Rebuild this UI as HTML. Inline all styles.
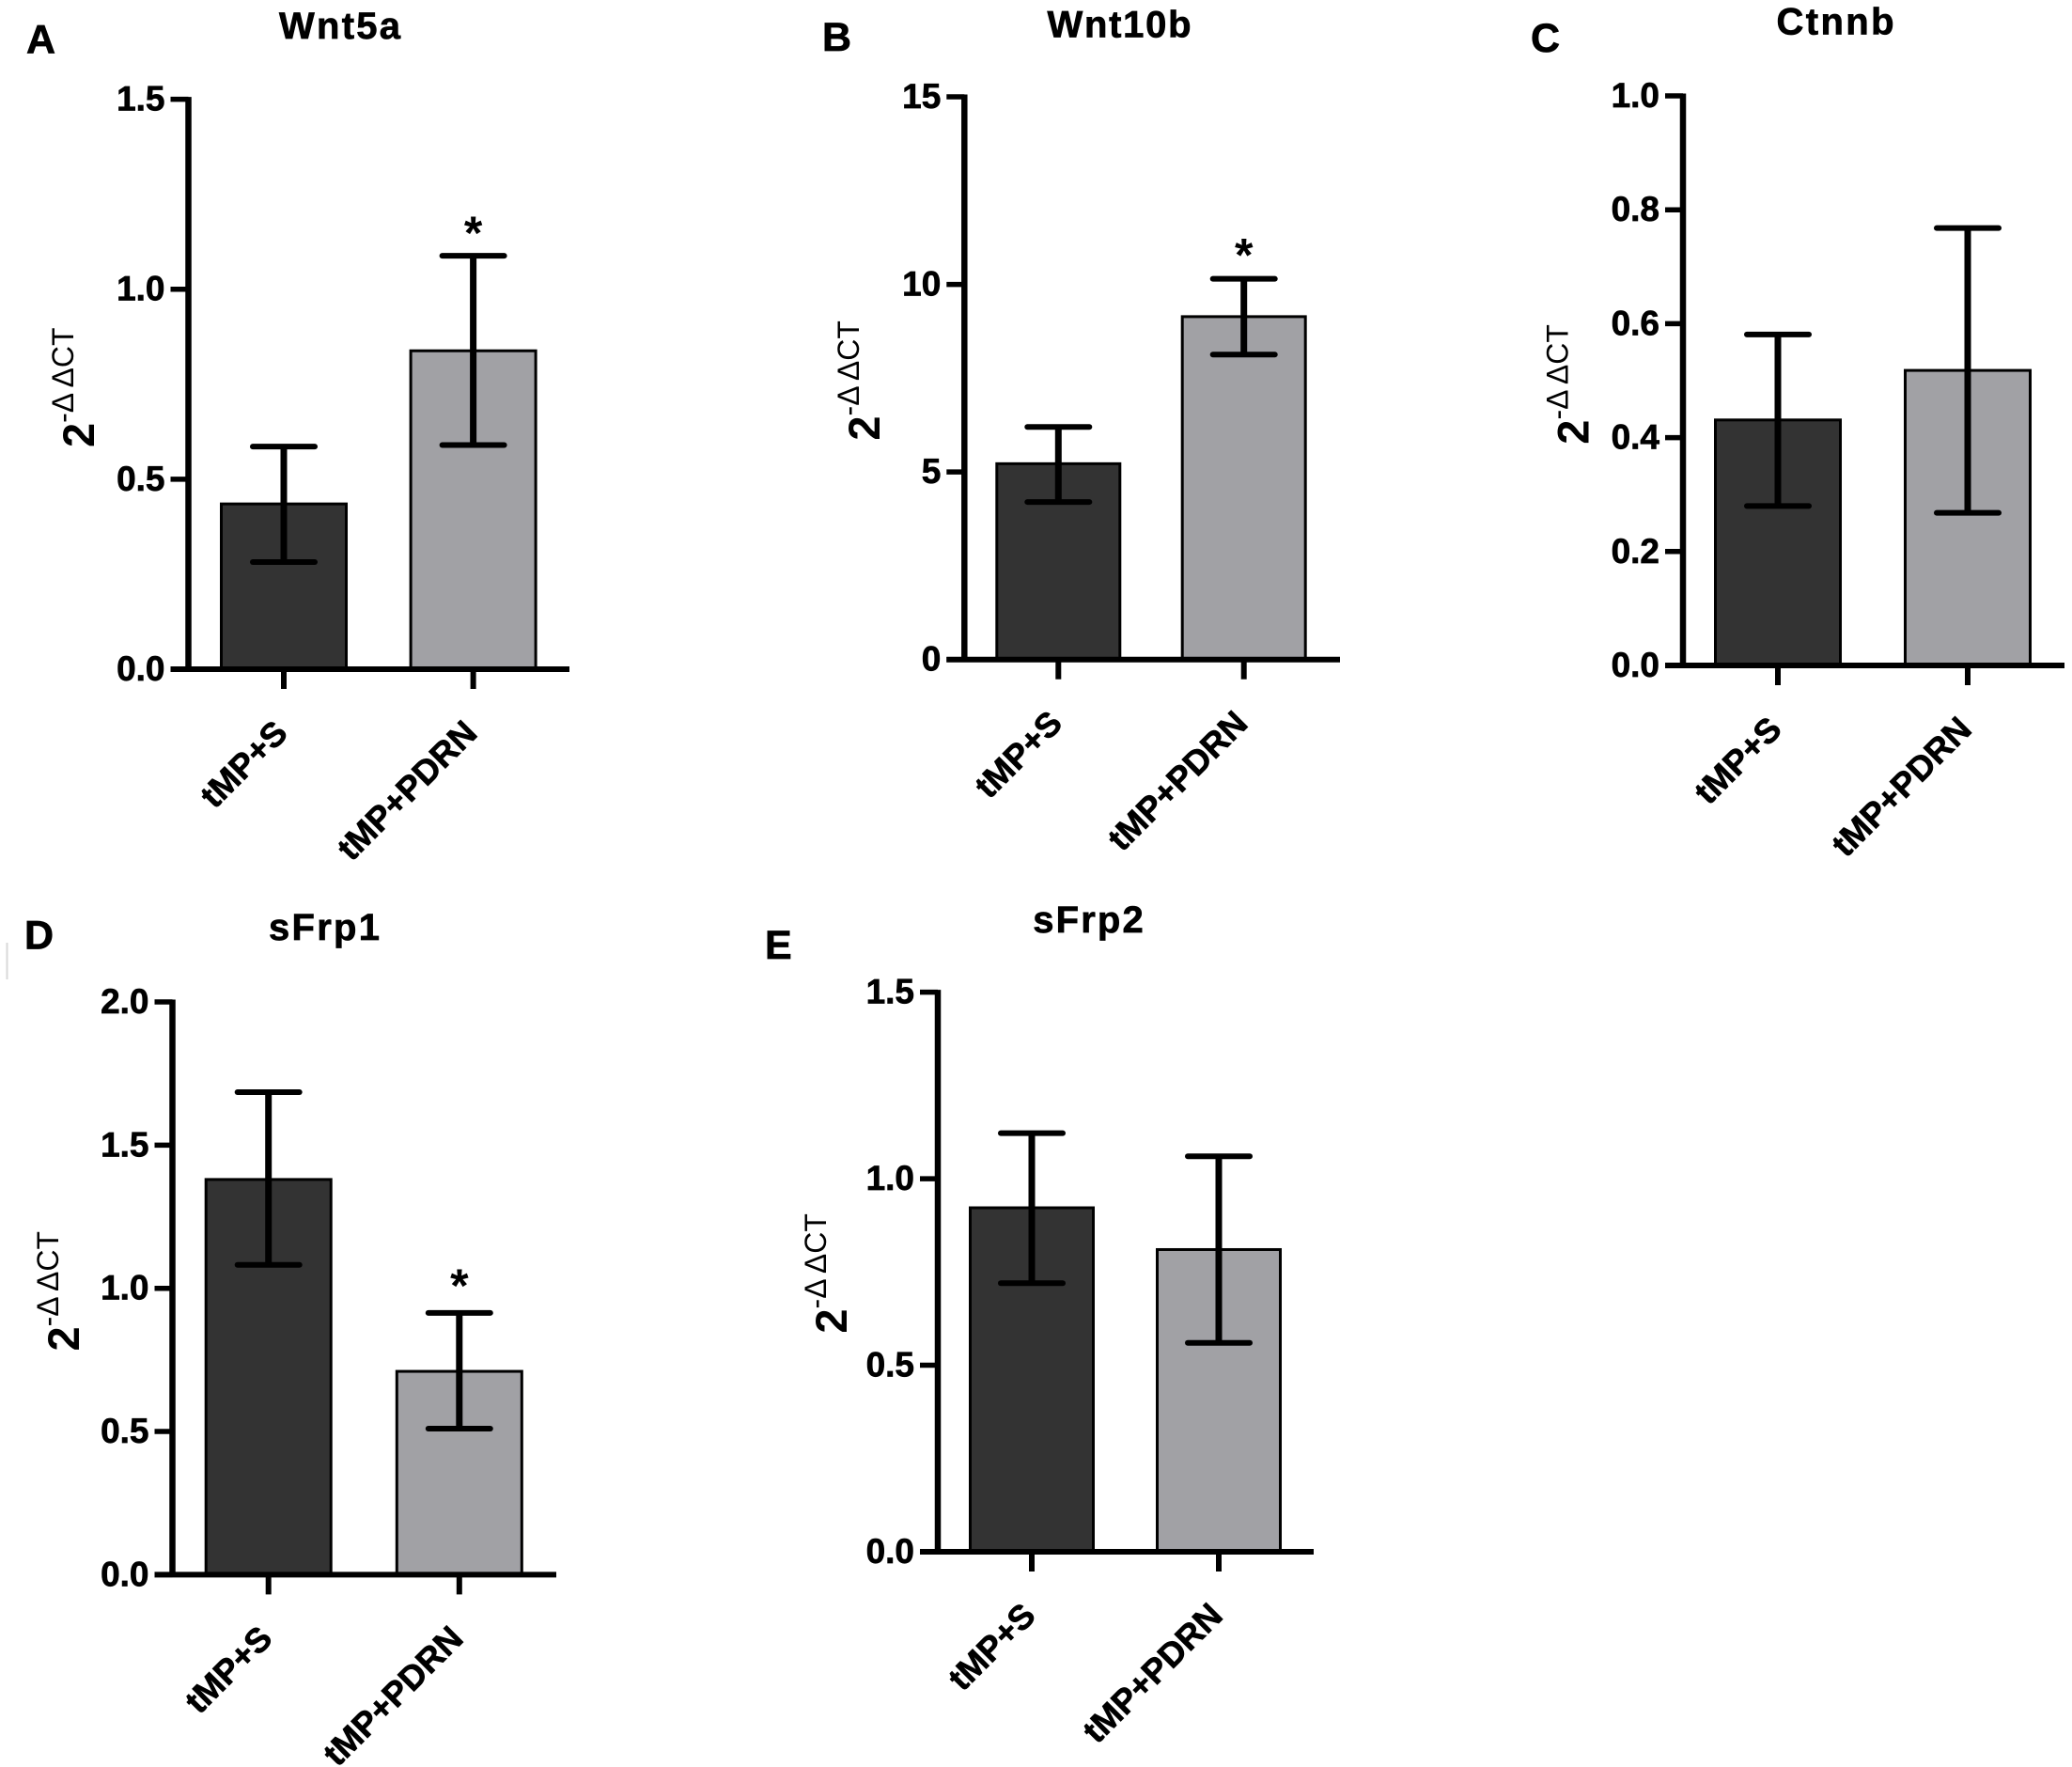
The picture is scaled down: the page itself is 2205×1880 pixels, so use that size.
<!DOCTYPE html>
<html lang="en">
<head>
<meta charset="utf-8">
<title>Wnt pathway gene expression</title>
<style>
html,body{margin:0;padding:0;background:#fff;}
#figure{display:block;width:2205px;height:1880px;background:#fff;}
text{font-family:"Liberation Sans",Arial,sans-serif;fill:#000;}
.bold{font-weight:bold;stroke:#000;stroke-width:0.7px;}
</style>
</head>
<body>
<svg id="figure" xmlns="http://www.w3.org/2000/svg" width="2205" height="1880" viewBox="0 0 2205 1880">
  <rect x="6.5" y="1003" width="2" height="39" fill="#d9d9d9"/>
</svg>
<script>
// ---- data ----
const categories = ['tMP+S', 'tMP+PDRN'];
const panelLetters = ['A', 'B', 'C', 'D', 'E'];
const panelTitles = ['Wnt5a', 'Wnt10b', 'Ctnnb', 'sFrp1', 'sFrp2'];

const wnt5aValues = [0.435, 0.838];
const wnt5aErrorHigh = [0.586, 1.088];
const wnt5aErrorLow = [0.282, 0.590];
const wnt5aTicks = [0, 0.5, 1.0, 1.5];
const wnt5aTickLabels = ['0.0', '0.5', '1.0', '1.5'];
const wnt5aStars = [false, true];

const wnt10bValues = [5.22, 9.14];
const wnt10bErrorHigh = [6.2, 10.15];
const wnt10bErrorLow = [4.2, 8.13];
const wnt10bTicks = [0, 5, 10, 15];
const wnt10bTickLabels = ['0', '5', '10', '15'];
const wnt10bStars = [false, true];

const ctnnbValues = [0.431, 0.518];
const ctnnbErrorHigh = [0.581, 0.768];
const ctnnbErrorLow = [0.280, 0.268];
const ctnnbTicks = [0, 0.2, 0.4, 0.6, 0.8, 1.0];
const ctnnbTickLabels = ['0.0', '0.2', '0.4', '0.6', '0.8', '1.0'];
const ctnnbStars = [false, false];

const sfrp1Values = [1.38, 0.71];
const sfrp1ErrorHigh = [1.685, 0.914];
const sfrp1ErrorLow = [1.082, 0.51];
const sfrp1Ticks = [0, 0.5, 1.0, 1.5, 2.0];
const sfrp1TickLabels = ['0.0', '0.5', '1.0', '1.5', '2.0'];
const sfrp1Stars = [false, true];

const sfrp2Values = [0.922, 0.81];
const sfrp2ErrorHigh = [1.122, 1.06];
const sfrp2ErrorLow = [0.72, 0.56];
const sfrp2Ticks = [0, 0.5, 1.0, 1.5];
const sfrp2TickLabels = ['0.0', '0.5', '1.0', '1.5'];
const sfrp2Stars = [false, false];

const panelData = [
  {values: wnt5aValues, high: wnt5aErrorHigh, low: wnt5aErrorLow, ticks: wnt5aTicks, tickLabels: wnt5aTickLabels, stars: wnt5aStars},
  {values: wnt10bValues, high: wnt10bErrorHigh, low: wnt10bErrorLow, ticks: wnt10bTicks, tickLabels: wnt10bTickLabels, stars: wnt10bStars},
  {values: ctnnbValues, high: ctnnbErrorHigh, low: ctnnbErrorLow, ticks: ctnnbTicks, tickLabels: ctnnbTickLabels, stars: ctnnbStars},
  {values: sfrp1Values, high: sfrp1ErrorHigh, low: sfrp1ErrorLow, ticks: sfrp1Ticks, tickLabels: sfrp1TickLabels, stars: sfrp1Stars},
  {values: sfrp2Values, high: sfrp2ErrorHigh, low: sfrp2ErrorLow, ticks: sfrp2Ticks, tickLabels: sfrp2TickLabels, stars: sfrp2Stars}
];

// ---- panel geometry (layout only, no data) ----
function panelLayout(axisX, plotTop, plotBottom, plotRight, firstCenter, centerStep, barWidth,
                     titleX, titleY, titleW, letterX, letterY, yTitleX, yTitleY, starGap, domainMax) {
  return {axisX, plotTop, plotBottom, plotRight, firstCenter, centerStep, barWidth,
          titleX, titleY, titleW, letterX, letterY, yTitleX, yTitleY, starGap, domainMax};
}
const layouts = [
  panelLayout(200.5, 105.6, 712, 606, 302, 201.6, 133, 361.5, 41, 129, 28, 56.5, 100, 476, 36, 1.5),
  panelLayout(1026.3, 103, 701.7, 1426, 1126.3, 197.4, 131, 1191, 39.5, 153, 875, 54, 936, 468.6, 37, 15),
  panelLayout(1791, 102, 708, 2197, 1892, 202, 133, 1953, 36.5, 125, 1629, 55, 1690.7, 472.7, 0, 1.0),
  panelLayout(183.5, 1066, 1675.4, 592, 285.7, 203.1, 133, 345, 1000, 118, 26, 1009.5, 84, 1437.5, 41, 2.0),
  panelLayout(998, 1055.6, 1651, 1398, 1098, 199, 131, 1158, 992.2, 117.5, 814, 1020, 901, 1418.6, 0, 1.5)
];

const svg = document.getElementById('figure');
const NS = 'http://www.w3.org/2000/svg';

function el(tag, attrs, parent, content) {
  const node = document.createElementNS(NS, tag);
  for (const key in attrs) node.setAttribute(key, attrs[key]);
  if (content !== undefined) node.textContent = content;
  parent.appendChild(node);
  return node;
}

panelData.forEach(function (data, p) {
  const lay = layouts[p];
  const yScale = function (v) {
    return lay.plotBottom - (v / lay.domainMax) * (lay.plotBottom - lay.plotTop);
  };
  const xScale = function (i) {
    return lay.firstCenter + i * lay.centerStep;
  };
  const key = panelTitles[p].toLowerCase();

  const group = el('g', {}, svg);
  
  

  const letter = el('text', {x: lay.letterX, y: lay.letterY, 'font-size': 43, class: 'bold'}, group, panelLetters[p]);
  
  

  const title = el('text', {x: lay.titleX, y: lay.titleY, 'font-size': 40, class: 'bold', 'text-anchor': 'middle',
                            textLength: lay.titleW, lengthAdjust: 'spacing'}, group, panelTitles[p]);
  
  

  // bars
  data.values.forEach(function (v, i) {
    const top = yScale(v);
    const bar = el('rect', {x: xScale(i) - lay.barWidth / 2, y: top, width: lay.barWidth, height: lay.plotBottom - top,
                            fill: i === 0 ? '#333333' : '#a1a1a5', stroke: '#000', 'stroke-width': 3}, group);
    
    
  });

  // error bars
  data.values.forEach(function (v, i) {
    const cx = xScale(i);
    const yHigh = yScale(data.high[i]);
    const yLow = yScale(data.low[i]);
    const stem = el('line', {x1: cx, x2: cx, y1: yHigh, y2: yLow, stroke: '#000', 'stroke-width': 7}, group);
    
    
    const capHigh = el('line', {x1: cx - 33, x2: cx + 33, y1: yHigh, y2: yHigh, stroke: '#000', 'stroke-width': 6, 'stroke-linecap': 'round'}, group);
    
    
    const capLow = el('line', {x1: cx - 33, x2: cx + 33, y1: yLow, y2: yLow, stroke: '#000', 'stroke-width': 6, 'stroke-linecap': 'round'}, group);
    
    
    if (data.stars[i]) {
      const star = el('text', {x: cx, y: yHigh - lay.starGap + 29, 'font-size': 50, 'font-weight': 'bold', 'text-anchor': 'middle'}, group, '*');
      
      
    }
  });

  // axes
  const yAxis = el('line', {x1: lay.axisX, x2: lay.axisX, y1: lay.plotTop - 2.5, y2: lay.plotBottom + 2.5, stroke: '#000', 'stroke-width': 6.5}, group);
  
  
  const xAxis = el('line', {x1: lay.axisX - 19, x2: lay.plotRight, y1: lay.plotBottom, y2: lay.plotBottom, stroke: '#000', 'stroke-width': 6}, group);
  
  

  // y ticks
  data.ticks.forEach(function (t, i) {
    const y = yScale(t);
    const tick = el('line', {x1: lay.axisX - 19, x2: lay.axisX, y1: y, y2: y, stroke: '#000', 'stroke-width': 5.5}, group);
    
    
    const label = el('text', {x: lay.axisX - 25, y: y + 12, 'font-size': 37, class: 'bold', 'text-anchor': 'end'}, group, data.tickLabels[i]);
    
    
  });

  // x ticks and labels
  categories.forEach(function (c, i) {
    const cx = xScale(i);
    const tick = el('line', {x1: cx, x2: cx, y1: lay.plotBottom, y2: lay.plotBottom + 21, stroke: '#000', 'stroke-width': 6}, group);
    
    
    const lx = cx + 6;
    const ly = lay.plotBottom + 70;
    const label = el('text', {x: lx, y: ly, 'font-size': 36.5, class: 'bold', 'text-anchor': 'end',
                              transform: 'rotate(-45 ' + lx + ' ' + ly + ')'}, group, c);
    
    
  });

  // y-axis title
  const yTitle = el('text', {transform: 'translate(' + lay.yTitleX + ' ' + lay.yTitleY + ') rotate(-90)'}, group);
  
  
  el('tspan', {'font-size': 47, 'font-weight': 'bold'}, yTitle, '2');
  el('tspan', {'font-size': 32, dy: -22, 'xml:space': 'preserve'}, yTitle, '-\u0394 \u0394CT');
});
</script>
</body>
</html>
